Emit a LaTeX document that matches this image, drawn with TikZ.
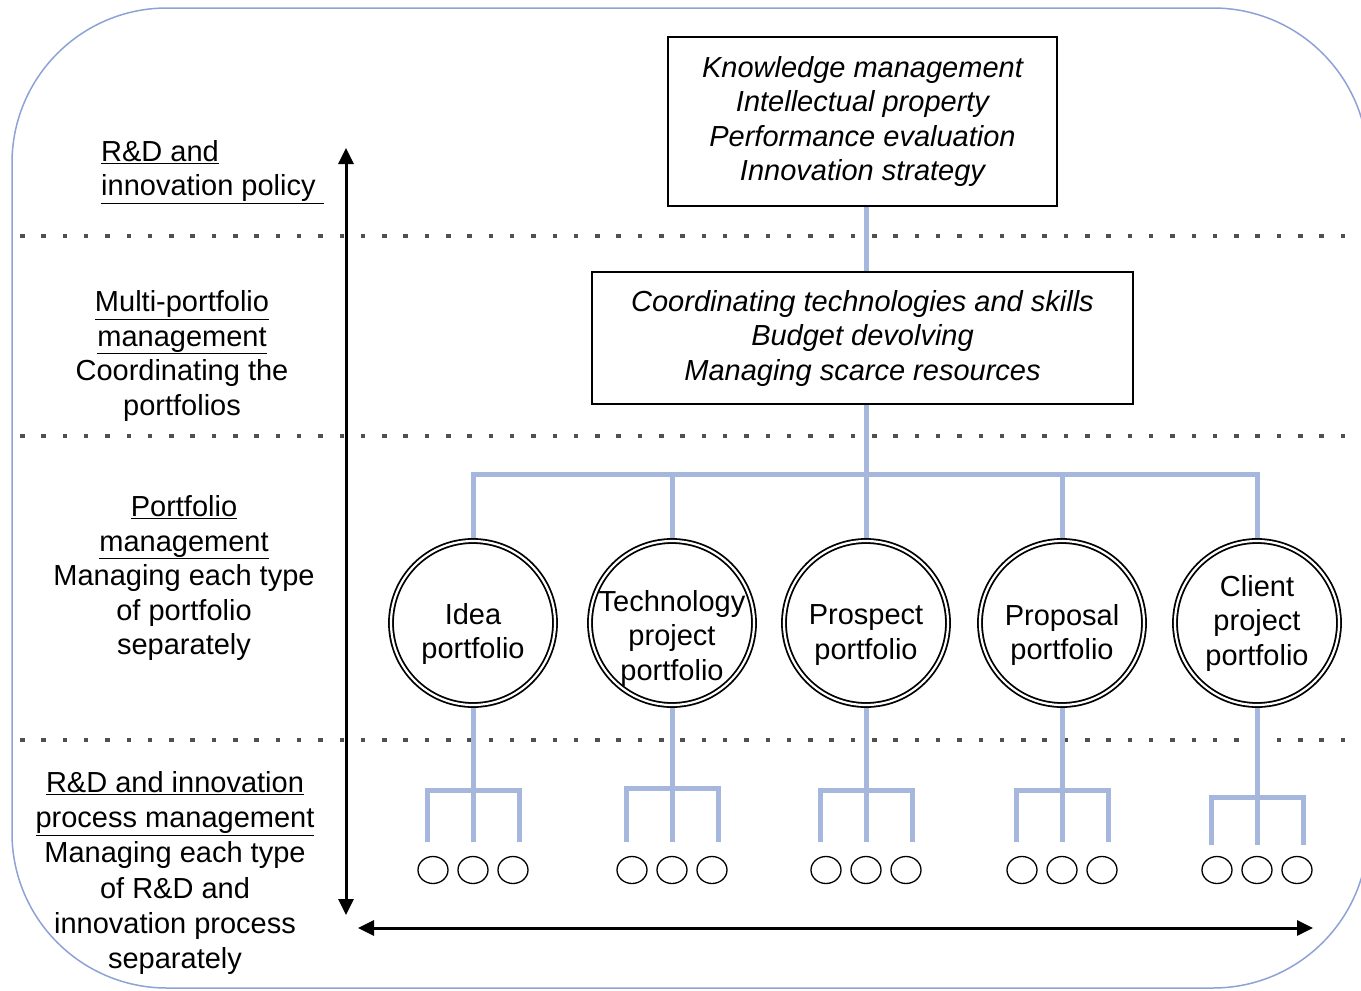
\documentclass[tikz,border=0pt]{standalone}
\usepackage{fontspec}
\setmainfont{Liberation Sans}
\usetikzlibrary{arrows.meta, positioning, shapes.geometric}

\definecolor{linkblue}{RGB}{166,183,222}
\definecolor{framblue}{RGB}{142,162,214}
\definecolor{dotgray}{RGB}{80,80,80}

\tikzset{
  level/.style={font=\fontsize{29}{34.5}\selectfont, align=center, inner sep=0pt},
  task/.style={draw, line width=1.5pt, inner sep=0pt, align=center,
    font=\fontsize{29}{34.5}\selectfont\itshape},
  portfolio/.style={circle, draw, double, double distance=2.2pt, line width=1.8pt,
    minimum size=164pt, inner sep=0pt, outer sep=2.9pt},
  item/.style={ellipse, draw, line width=1.3pt, minimum width=30pt,
    minimum height=27pt, inner sep=0pt},
  link/.style={line width=5pt, color=linkblue},
  divider/.style={line width=4.5pt, dash pattern=on 4.5pt off 16.8pt, color=dotgray},
  axis/.style={line width=3pt, {Triangle[length=16pt,width=15pt]}-{Triangle[length=16pt,width=15pt]}},
  frame/.style={line width=1.5pt, color=framblue, rounded corners=155pt}
}

\begin{document}
\begin{tikzpicture}[x=1pt, y=-1pt]

  \useasboundingbox (0,0) rectangle (1361,991);

  % Outer frame
  \draw[frame] (12,8) rectangle (1368,988);

  % Level dividers
  \draw[divider] (20,236) -- (1361,236);
  \draw[divider] (20,436) -- (1361,436);
  \draw[divider] (20,740) -- (1361,740);

  % Axes
  \coordinate (vtop) at (346,148);
  \coordinate (vbot) at (346,915);
  \coordinate (hleft) at (358,928);
  \coordinate (hright) at (1313,928);
  \draw[axis] (vtop) -- (vbot);
  \draw[axis] (hleft) -- (hright);

  % Level labels
  \node[level, align=left, anchor=west] (policy) at (101,172)
    {\underline{R\&D and}\\\underline{innovation policy\ }};
  \node[level] (multi) at (182,356)
    {\underline{Multi-portfolio}\\\underline{management}\\Coordinating the\\portfolios};
  \node[level] (single) at (184,578)
    {\underline{Portfolio}\\\underline{management}\\Managing each type\\of portfolio\\separately};
  \node[level, font=\fontsize{29}{35.2}\selectfont] (process) at (175,873)
    {\underline{R\&D and innovation}\\\underline{process management}\\Managing each type\\of R\&D and\\innovation process\\separately};

  % Policy and multi-portfolio tasks
  \node[task, minimum width=389pt, minimum height=169pt] (top) at (862.5,121.5)
    {Knowledge management\\Intellectual property\\Performance evaluation\\Innovation strategy};
  \node[task, minimum width=541pt, minimum height=132pt] (mid) at (862.5,338)
    {Coordinating technologies and skills\\Budget devolving\\Managing scarce resources};

  % Portfolios
  \node[portfolio, label={[level, yshift=-11pt]center:{Idea\\portfolio}}] (idea) at (473,623) {};
  \node[portfolio, label={[level, yshift=-15pt]center:{Technology\\project\\portfolio}}] (tech) at (672,623) {};
  \node[portfolio, label={[level, yshift=-12pt]center:{Prospect\\portfolio}}] (prospect) at (866,623) {};
  \node[portfolio, label={[level, yshift=-12pt]center:{Proposal\\portfolio}}] (proposal) at (1062,623) {};
  \node[portfolio, label={[level]center:{Client\\project\\portfolio}}] (client) at (1257,623) {};

  % Processes
  \node[item] (idea1) at (433,870) {};
  \node[item] (idea2) at (473,870) {};
  \node[item] (idea3) at (513,870) {};
  \node[item] (tech1) at (632,870) {};
  \node[item] (tech2) at (672,870) {};
  \node[item] (tech3) at (712,870) {};
  \node[item] (prospect1) at (826,870) {};
  \node[item] (prospect2) at (866,870) {};
  \node[item] (prospect3) at (906,870) {};
  \node[item] (proposal1) at (1022,870) {};
  \node[item] (proposal2) at (1062,870) {};
  \node[item] (proposal3) at (1102,870) {};
  \node[item] (client1) at (1217,870) {};
  \node[item] (client2) at (1257,870) {};
  \node[item] (client3) at (1297,870) {};

  % Links down the hierarchy
  \coordinate (bus) at (866,474);
  \draw[link] (top.south -| bus) -- (mid.north -| bus);
  \draw[link] (mid.south -| bus) -- (prospect.north);
  \draw[link] (idea.north) |- (bus) -| (client.north);
  \draw[link] (tech.north) -- (tech.north |- bus);
  \draw[link] (proposal.north) -- (proposal.north |- bus);

  % Forks to processes
  \coordinate (ideafork) at (473,790);
  \coordinate (techfork) at (672,788);
  \coordinate (prospectfork) at (866,790);
  \coordinate (proposalfork) at (1062,790);
  \coordinate (clientfork) at (1257,797);

  \draw[link] (idea.south) -- (ideafork) -- ([yshift=14pt]idea2.north);
  \draw[link] ([xshift=-6pt,yshift=14pt]idea1.north) |- (ideafork) -| ([xshift=6pt,yshift=14pt]idea3.north);
  \draw[link] (tech.south) -- (techfork) -- ([yshift=14pt]tech2.north);
  \draw[link] ([xshift=-6pt,yshift=14pt]tech1.north) |- (techfork) -| ([xshift=6pt,yshift=14pt]tech3.north);
  \draw[link] (prospect.south) -- (prospectfork) -- ([yshift=14pt]prospect2.north);
  \draw[link] ([xshift=-6pt,yshift=14pt]prospect1.north) |- (prospectfork) -| ([xshift=6pt,yshift=14pt]prospect3.north);
  \draw[link] (proposal.south) -- (proposalfork) -- ([yshift=14pt]proposal2.north);
  \draw[link] ([xshift=-6pt,yshift=14pt]proposal1.north) |- (proposalfork) -| ([xshift=6pt,yshift=14pt]proposal3.north);
  \draw[link] (client.south) -- (clientfork) -- ([yshift=11pt]client2.north);
  \draw[link] ([xshift=-6pt,yshift=11pt]client1.north) |- (clientfork) -| ([xshift=6pt,yshift=11pt]client3.north);

\end{tikzpicture}
\end{document}
